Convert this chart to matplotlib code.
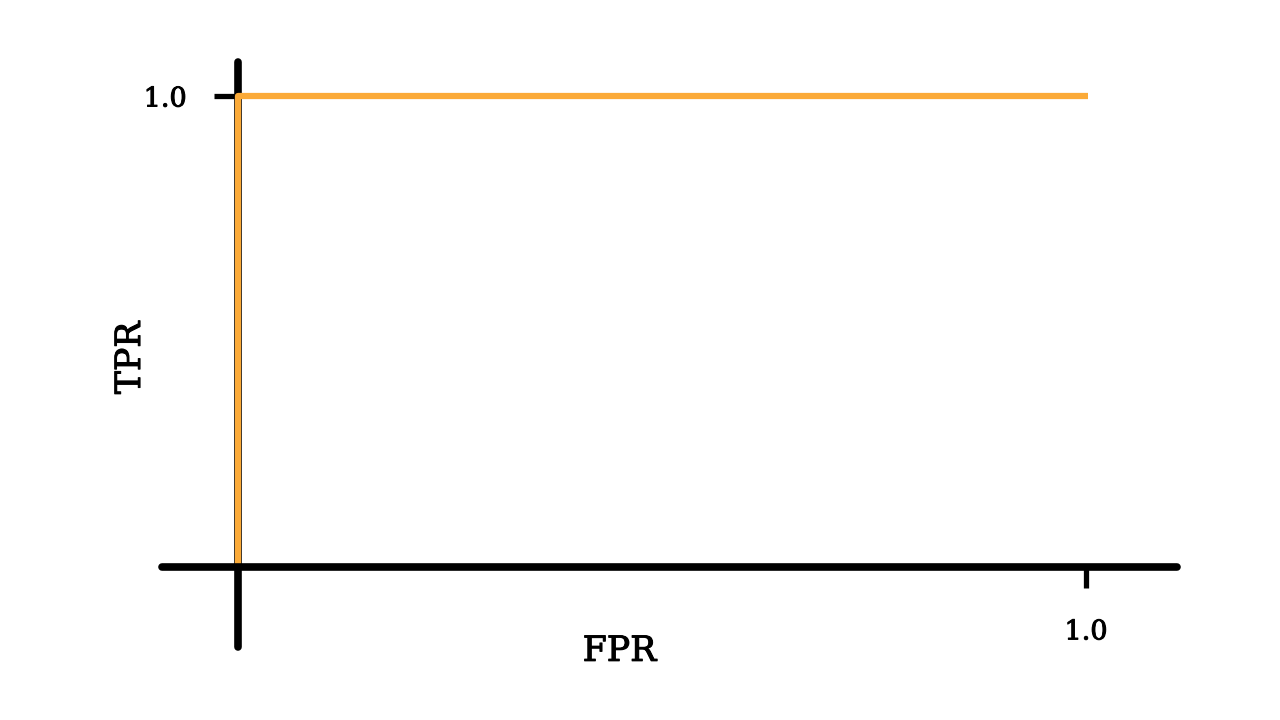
import matplotlib
matplotlib.use("Agg")
import matplotlib.pyplot as plt
import matplotlib.patheffects as pe

# ROC curve of a perfect classifier
fpr = [0.0, 0.0, 1.0025]
tpr = [0.0, 1.0, 1.0]
x_ticks = [1.0]
y_ticks = [1.0]
tick_labels = ["1.0"]

ORANGE = "#FBAA38"
FONT = "DejaVu Serif"
# slightly heavier text, like the reference
heavy = [pe.withStroke(linewidth=0.7, foreground="black")]

fig = plt.figure(figsize=(12.8, 7.2), dpi=100)
ax = fig.add_axes([0, 0, 1, 1])
ax.set_xlim(-0.2807, 1.2288)
ax.set_ylim(-0.3248, 1.2038)

ax.plot(fpr, tpr, color=ORANGE, lw=4.5, solid_capstyle="butt", zorder=2.6)

for side in ("top", "right"):
    ax.spines[side].set_visible(False)
for side in ("left", "bottom"):
    sp = ax.spines[side]
    sp.set_position(("data", 0))
    sp.set_linewidth(5.5)
    sp.set_capstyle("round")
    sp.set_color("black")
ax.spines["left"].set_bounds(-0.170, 1.072)
ax.spines["bottom"].set_bounds(-0.0896, 1.107)
ax.spines["left"].set_zorder(2.5)
ax.spines["bottom"].set_zorder(2.7)

ax.set_xticks(x_ticks)
ax.set_xticklabels(tick_labels, fontsize=19.5, family=FONT, path_effects=heavy)
ax.set_yticks(y_ticks)
ax.set_yticklabels(tick_labels, fontsize=19.5, family=FONT, path_effects=heavy)
ax.tick_params(axis="x", direction="out", length=15, width=3.8, pad=22)
ax.tick_params(axis="y", direction="out", length=17, width=3.8, pad=20)

ax.set_xlabel("FPR", fontsize=25, family=FONT, va="center", path_effects=heavy)
ax.set_ylabel("TPR", fontsize=25, family=FONT, va="center", path_effects=heavy)
ax.xaxis.set_label_coords(0.484, 0.096)
ax.yaxis.set_label_coords(0.1016, 0.503)

fig.savefig("out.png", dpi=100)
